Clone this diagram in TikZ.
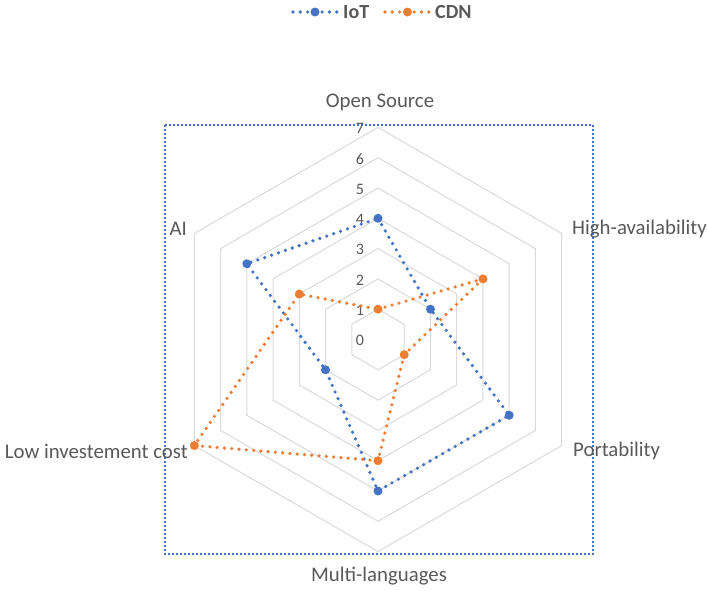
\documentclass[tikz,border=0pt]{standalone}
\usepackage{fontspec}
\usetikzlibrary{calc}
\setmainfont{Carlito}
\definecolor{iotblue}{HTML}{4472C4}
\definecolor{cdnorange}{HTML}{ED7D31}
\definecolor{txtgray}{HTML}{595959}
\definecolor{gridgray}{HTML}{D9D9D9}
\begin{document}
\begin{tikzpicture}[x=1pt, y=1pt,
		series/.style={line width=3.6pt, dash pattern=on 0pt off 7.3pt, line cap=round, line join=round},
		marker/.style={circle, fill, inner sep=0pt, minimum size=9pt},
		axislabel/.style={text=txtgray, font=\fontsize{20.8}{24}\selectfont, inner sep=0pt},
		ticklabel/.style={text=txtgray, font=\fontsize{16}{19}\selectfont, inner sep=0pt},
		legendlabel/.style={text=txtgray, font=\bfseries\fontsize{20}{24}\selectfont, inner sep=0pt, anchor=west}]
	\useasboundingbox (-378,-250.5) rectangle (329,339.5);
	\def\u{30.3}
	% hexagonal grid
	\foreach \r in {1,...,7}
		\draw[gridgray, line width=1pt] (90:{\r*\u}) \foreach \a in {30,-30,-90,-150,150} {-- (\a:{\r*\u})} -- cycle;
	\foreach \v in {0,...,7}
		\node[ticklabel] (tick\v) at (-18,{\v*\u-1}) {\v};
	% plot area
	\draw[iotblue, line width=1.2pt, dash pattern=on 2pt off 2pt] (-213,214.5) rectangle (215,-214.5);
	% axis labels
	\node[axislabel] (opensrc) at (2,237.5) {Open Source};
	\node[axislabel, anchor=west] (highav) at (194,110.5) {High-availability};
	\node[axislabel, anchor=west] (port) at (195,-111.5) {Portability};
	\node[axislabel] (multilang) at (1,-236.5) {Multi-languages};
	\node[axislabel, anchor=east] (lowcost) at (-190,-111.5) {Low investement cost};
	\node[axislabel, anchor=east] (ai) at (-191,110.5) {AI};
	% data series
	\foreach \s/\col/\vals in {iot/iotblue/{4,2,5,5,2,5}, cdn/cdnorange/{1,4,1,4,7,3}} {
		\foreach \v [count=\i] in \vals {
			\pgfmathsetmacro\ang{150-60*\i}
			\coordinate (\s\i) at (\ang:{\v*\u});
		}
		\draw[series, \col] (\s1) -- (\s2) -- (\s3) -- (\s4) -- (\s5) -- (\s6) -- cycle;
		\foreach \i in {1,...,6}
			\node[marker, \col] (\s pt\i) at (\s\i) {};
	}
	% legend
	\coordinate (iotA) at (-85,327.5);
	\coordinate (iotB) at (-41,327.5);
	\draw[series, iotblue] (iotA) -- (iotB);
	\node[marker, iotblue] (iotkey) at ($(iotA)!0.5!(iotB)$) {};
	\node[legendlabel] (iotname) at (-35,327.5) {IoT};
	\coordinate (cdnA) at (7,327.5);
	\coordinate (cdnB) at (52,327.5);
	\draw[series, cdnorange] (cdnA) -- (cdnB);
	\node[marker, cdnorange] (cdnkey) at ($(cdnA)!0.5!(cdnB)$) {};
	\node[legendlabel] (cdnname) at (57,327.5) {CDN};
\end{tikzpicture}
\end{document}
